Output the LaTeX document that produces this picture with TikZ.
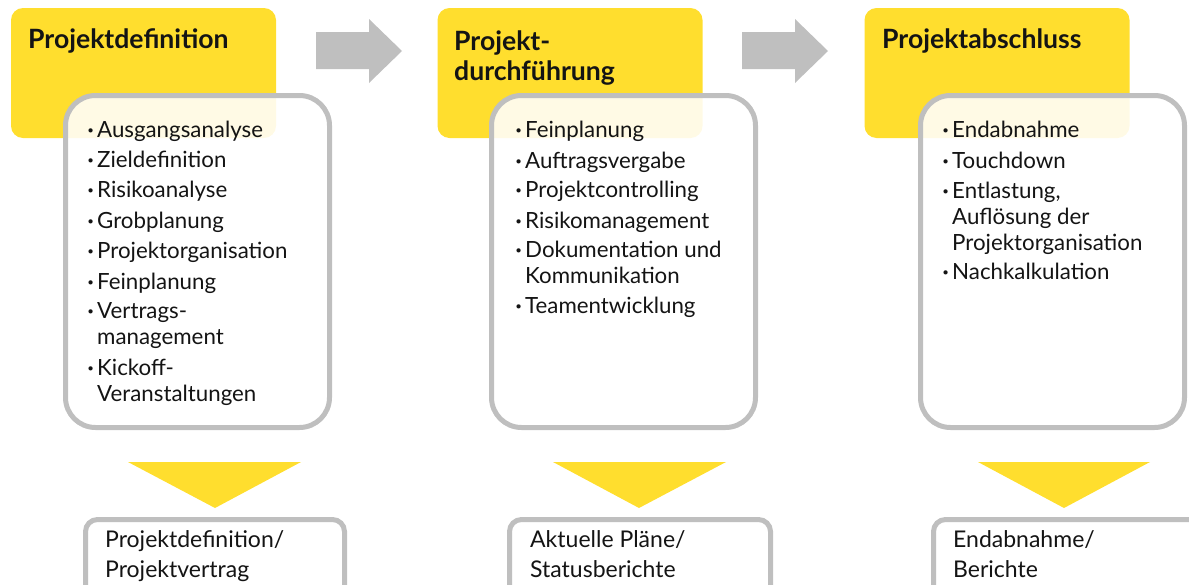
\documentclass[tikz,border=0pt]{standalone}
\usepackage{fontspec}
\setmainfont{Lato}
\definecolor{eyyellow}{RGB}{255,222,46}
\definecolor{eygray}{RGB}{191,191,191}
\definecolor{txt}{RGB}{20,20,20}
\newcommand\bul{\llap{\textbf{\textperiodcentered}\hspace{3.5pt}}}
\newcommand\bodyfont{\fontsize{22.3}{26}\selectfont}
\newcommand\titlefont{\fontsize{26.6}{30}\selectfont\bfseries}
\tikzset{
  phasebox/.style={fill=eyyellow, rounded corners=12pt, inner sep=0pt, minimum width=265pt, minimum height=130pt},
  listbox/.style={draw=eygray, line width=5pt, fill=white, fill opacity=0.88, rounded corners=30pt, inner sep=0pt, minimum width=264pt, minimum height=332pt},
  resultbox/.style={draw=eygray, line width=5pt, fill=white, rounded corners=12pt, inner sep=0pt},
  title/.style={anchor=base west, inner sep=0pt, font=\titlefont, text=txt, align=left},
  item/.style={anchor=base west, inner sep=0pt, font=\bodyfont, text=txt, align=left},
  result/.style={anchor=base west, inner sep=0pt, font=\fontsize{23}{30}\selectfont, text=txt, align=left},
  blockarrow/.style={fill=eygray},
  downtri/.style={fill=eyyellow}
}
\begin{document}
\begin{tikzpicture}[x=1pt,y=-1pt]
\useasboundingbox (0,0) rectangle (1189,584);
\clip (0,0) rectangle (1189,584);
% yellow phase boxes
\node[phasebox] (p1) at (143.5,73) {};
\node[phasebox] (p2) at (570,73) {};
\node[phasebox] (p3) at (997,73) {};
% gray block arrows
\fill[blockarrow] (316,32) -- (369,32) -- (369,19) -- (402,51) -- (369,83) -- (369,69) -- (316,69) -- cycle;
\fill[blockarrow] (742,32) -- (795,32) -- (795,19) -- (828,51) -- (795,83) -- (795,69) -- (742,69) -- cycle;
% list boxes
\node[listbox] (l1) at (197.5,261.5) {};
\node[listbox] (l2) at (623.5,261.5) {};
\node[listbox] (l3) at (1052.5,261.5) {};
% titles (multi-line nodes are placed by the baseline of their last line)
\node[title] (t1) at (28,48) {Projektdefinition};
\node[title] (t2) at (454,80) {Projekt-\\durchführung};
\node[title] (t3) at (882,48) {Projektabschluss};
% list 1
\node[item] (a1) at (97,137) {\bul Ausgangsanalyse};
\node[item] (a2) at (97,167) {\bul Zieldefinition};
\node[item] (a3) at (97,197) {\bul Risikoanalyse};
\node[item] (a4) at (97,228) {\bul Grobplanung};
\node[item] (a5) at (97,258) {\bul Projektorganisation};
\node[item] (a6) at (97,289) {\bul Feinplanung};
\node[item] (a7) at (97,344) {\bul Vertrags-\\management};
\node[item] (a8) at (97,401) {\bul Kickoff-\\Veranstaltungen};
% list 2
\node[item] (b1) at (525,137) {\bul Feinplanung};
\node[item] (b2) at (525,168) {\bul Auftragsvergabe};
\node[item] (b3) at (525,197) {\bul Projektcontrolling};
\node[item] (b4) at (525,228) {\bul Risikomanagement};
\node[item] (b5) at (525,283) {\bul Dokumentation und\\Kommunikation};
\node[item] (b6) at (525,313) {\bul Teamentwicklung};
% list 3
\node[item] (c1) at (952,137) {\bul Endabnahme};
\node[item] (c2) at (952,168) {\bul Touchdown};
\node[item] (c3) at (952,250) {\bul Entlastung,\\Auflösung der\\Projektorganisation};
\node[item] (c4) at (952,279) {\bul Nachkalkulation};
% down triangles
\fill[downtri] (128,462) -- (301,462) -- (215,508) -- cycle;
\fill[downtri] (553,462) -- (726,462) -- (639,508) -- cycle;
\fill[downtri] (978,462) -- (1150,462) -- (1064,508) -- cycle;
% result boxes
\draw[resultbox] (85.5,519.5) rectangle (344.5,620);
\draw[resultbox] (509.5,519.5) rectangle (770.5,620);
\draw[resultbox] (933.5,519.5) rectangle (1220,620);
\node[result] (r1) at (105,577) {Projektdefinition/\\Projektvertrag};
\node[result] (r2) at (530,577) {Aktuelle Pläne/\\Statusberichte};
\node[result] (r3) at (953,577) {Endabnahme/\\Berichte};
\end{tikzpicture}
\end{document}
